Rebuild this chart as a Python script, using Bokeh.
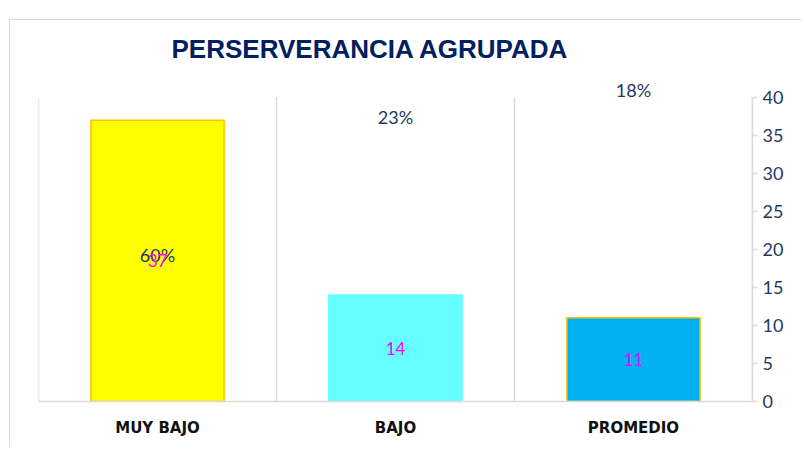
from bokeh.plotting import figure
from bokeh.models import FactorRange, Range1d, ColumnDataSource, FixedTicker
from bokeh.core.properties import value
from bokeh.embed import file_html
from bokeh.resources import INLINE

categories = ["MUY BAJO", "BAJO", "PROMEDIO"]
counts = [37, 14, 11]
percents = ["60%", "23%", "18%"]
pct_label_y = [19.2, 37.4, 40.9]
fill_colors = ["#FFFF00", "#66FFFF", "#00B0F0"]
line_colors = ["#FFC000", "#66FFFF", "#FFC000"]
y_ticks = [0, 5, 10, 15, 20, 25, 30, 35, 40]
title_text = "PERSERVERANCIA AGRUPADA"

src = ColumnDataSource(dict(
    cat=categories,
    count=counts,
    half=[c / 2 for c in counts],
    count_txt=[str(c) for c in counts],
    pct=percents,
    pct_y=pct_label_y,
    fill=fill_colors,
    line=line_colors,
))

p = figure(
    x_range=FactorRange(*categories, range_padding=0),
    y_range=Range1d(0, 43),
    width=792, height=428,
    output_backend="svg", toolbar_location=None,
    y_axis_location="right",
    min_border_left=28, min_border_right=50,
    min_border_top=54, min_border_bottom=47,
    title=title_text,
)
p.styles = {"border-left": "1px solid #D9D9D9", "border-top": "1px solid #D9D9D9",
            "margin-left": "9px", "margin-top": "19px"}
p.outline_line_color = None
p.xgrid.visible = False
p.ygrid.visible = False

p.title.align = "left"
p.title.offset = 133
p.title.standoff = 22
p.title.text_font = "Liberation Sans"
p.title.text_font_style = "bold"
p.title.text_font_size = "26px"
p.title.text_color = "#002060"

# vertical separators between categories
p.segment(x0=[0, 1, 2, 3], y0=0, x1=[0, 1, 2, 3], y1=y_ticks[-1],
          line_color="#D9D9D9", line_width=1.5)

p.vbar(x="cat", top="count", width=0.56, source=src,
       fill_color="fill", line_color="line", line_width=1.5)

p.text(x="cat", y="pct_y", text="pct", source=src,
       text_align="center", text_baseline="middle",
       text_font=value("Lato"), text_font_size="18px", text_color="#1F3864")
p.text(x="cat", y="half", text="count_txt", source=src,
       text_align="center", text_baseline="middle",
       text_font=value("Lato"), text_font_size="17px", text_color="#FF00FF")

ya = p.yaxis[0]
ya.bounds = (0, 40)
ya.ticker = FixedTicker(ticks=y_ticks)
ya.axis_line_color = "#D9D9D9"
ya.axis_line_width = 1.5
ya.major_tick_line_color = "#D9D9D9"
ya.major_tick_line_width = 1.5
ya.major_tick_out = 5
ya.major_tick_in = 0
ya.minor_tick_line_color = None
ya.major_label_text_font = "Lato"
ya.major_label_text_font_size = "18px"
ya.major_label_text_color = "#1F3864"
ya.major_label_standoff = 5

xa = p.xaxis[0]
xa.axis_line_color = "#D9D9D9"
xa.axis_line_width = 1.5
xa.major_tick_line_color = None
xa.minor_tick_line_color = None
xa.major_label_text_font = "DejaVu Sans"
xa.major_label_text_font_style = "bold"
xa.major_label_text_font_size = "15px"
xa.major_label_text_color = "#111111"
xa.major_label_standoff = 11

open("out.html", "w").write(file_html(p, INLINE))
